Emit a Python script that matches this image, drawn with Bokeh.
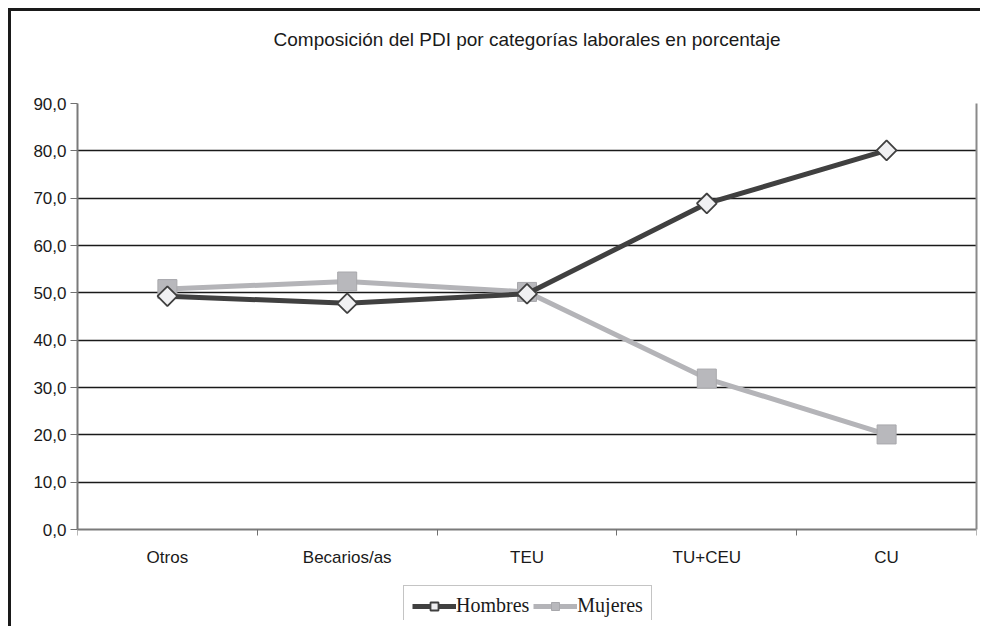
from bokeh.plotting import figure
from bokeh.models import (FixedTicker, Range1d, Legend, LegendItem, ColumnDataSource, Title,
                          LinearAxis)
from bokeh.core.properties import value
from bokeh.embed import file_html
from bokeh.resources import INLINE
import math

categories = ["Otros", "Becarios/as", "TEU", "TU+CEU", "CU"]
hombres = [49.3, 47.8, 49.8, 68.9, 80.1]
mujeres = [50.8, 52.4, 50.2, 31.9, 20.1]
y_ticks = [0, 10, 20, 30, 40, 50, 60, 70, 80, 90]
y_tick_labels = ["0,0", "10,0", "20,0", "30,0", "40,0", "50,0", "60,0", "70,0", "80,0", "90,0"]
title_text = "Composición del PDI por categorías laborales en porcentaje"

xpos = [i + 0.5 for i in range(len(categories))]
src = ColumnDataSource(dict(x=xpos, h=hombres, m=mujeres, cat=categories, zero=[0] * len(categories)))

p = figure(width=972, height=618, output_backend="svg", toolbar_location=None,
           x_range=Range1d(0, len(categories)), y_range=Range1d(-19.2, 90),
           min_border_left=66, min_border_right=7, min_border_top=92, min_border_bottom=9,
           background_fill_color="white", border_fill_color="white")
p.styles = {"border-top": "3px solid #1a1a1a", "border-left": "3px solid #1a1a1a",
            "margin-left": "8px", "margin-top": "8px"}
p.outline_line_color = None

# spacer (closest to the frame) then the title
spacer = Title(text=" ", text_font_size="8px", standoff=38)
p.add_layout(spacer, "above")
t = Title(text=title_text, align="center", text_font="Liberation Sans", text_font_size="19px",
          text_font_style="normal", text_color="#1a1a1a", standoff=10)
p.add_layout(t, "above")

# x axis, fixed at y = 0; ticks at the category boundaries
xa = p.xaxis[0]
xa.fixed_location = 0
xa.ticker = FixedTicker(ticks=[], minor_ticks=list(range(0, len(categories) + 1)))
xa.major_tick_out = 0
xa.major_tick_in = 0
xa.minor_tick_out = 6
xa.minor_tick_in = 0
xa.minor_tick_line_color = "#707070"
xa.axis_line_color = "#7a7a7a"
xa.axis_line_width = 2
xa.major_label_standoff = 0

# category labels below the axis
p.text("x", "zero", text="cat", source=src, text_font=value("Liberation Sans"),
       text_font_size="17px", text_color="#1a1a1a", text_align="center",
       text_baseline="middle", y_offset=28)

ya = p.yaxis[0]
ya.bounds = (0, 90)
ya.ticker = FixedTicker(ticks=y_ticks, minor_ticks=[])
ya.major_label_overrides = {v: l for v, l in zip(y_ticks, y_tick_labels)}
ya.major_tick_out = 7
ya.major_tick_in = 0
ya.major_tick_line_color = "#707070"
ya.axis_line_color = "#7a7a7a"
ya.axis_line_width = 2
ya.minor_tick_line_color = None
ya.major_label_text_font = "Liberation Sans"
ya.major_label_text_font_size = "17px"
ya.major_label_text_color = "#1a1a1a"
ya.major_label_standoff = 4

# right border of the plot area
ra = LinearAxis(bounds=(0, 90), ticker=FixedTicker(ticks=[], minor_ticks=[]),
                major_tick_out=0, major_tick_in=0,
                minor_tick_out=0, minor_tick_in=0, major_label_standoff=0,
                axis_line_color="#8a8a8a", axis_line_width=2)
p.add_layout(ra, "right")

p.xgrid.grid_line_color = None
p.ygrid.ticker = FixedTicker(ticks=y_ticks[1:])
p.ygrid.grid_line_color = "#1a1a1a"
p.ygrid.grid_line_width = 1.6

# series
lm = p.line("x", "m", source=src, line_color="#b4b4b8", line_width=5)
sm = p.scatter("x", "m", source=src, marker="square", size=19, fill_color="#b8b8bc",
               line_color="#a8a8ac", line_width=1)
lh = p.line("x", "h", source=src, line_color="#404040", line_width=5)
sh = p.scatter("x", "h", source=src, marker="square", angle=math.pi / 4, size=14,
               fill_color="#f0f0f2", line_color="#404040", line_width=1.8)

legend = Legend(items=[LegendItem(label="Hombres", renderers=[lh, sh]),
                       LegendItem(label="Mujeres", renderers=[lm, sm])],
                orientation="horizontal", location=(326, -6),
                label_text_font="Liberation Serif", label_text_font_size="20px",
                label_text_color="#1a1a1a", glyph_width=44, glyph_height=20,
                label_standoff=0, spacing=4, padding=8, margin=0,
                border_line_color="#8a8a8a", border_line_width=1,
                background_fill_color="white", background_fill_alpha=1)
p.add_layout(legend, "center")

open("out.html", "w").write(file_html(p, INLINE))
